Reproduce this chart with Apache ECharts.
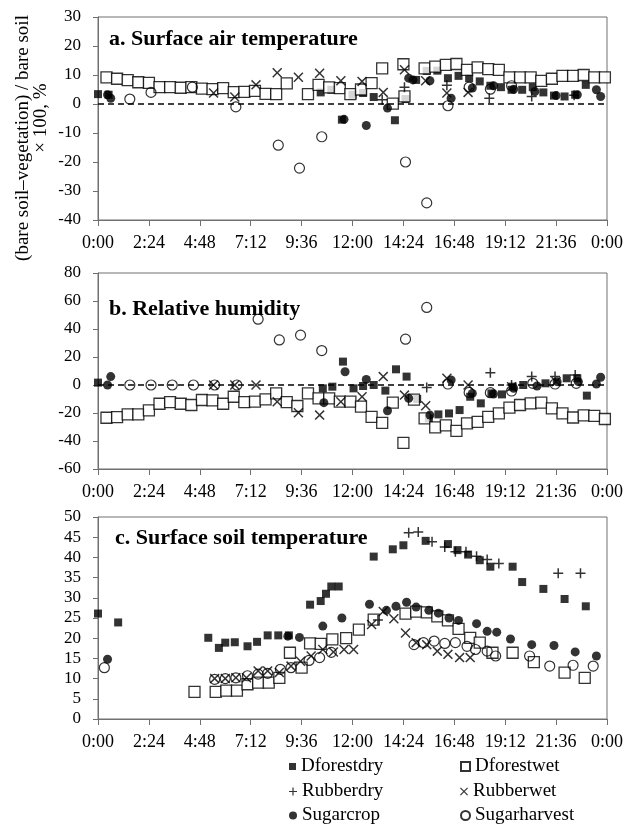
<!DOCTYPE html>
<html><head><meta charset="utf-8">
<script src="https://cdn.jsdelivr.net/npm/echarts@6/dist/echarts.min.js"></script>
<style>html,body{margin:0;padding:0;background:#fff}#c{width:637px;height:827px}</style>
</head><body><div id="c"></div>
<script>
// ---------- DATA (hour of day, % difference / soil temperature) ----------
const seriesNames = ['Dforestdry','Dforestwet','Rubberdry','Rubberwet','Sugarcrop','Sugarharvest'];
const panelTitles = ['a. Surface air temperature','b. Relative humidity','c. Surface soil temperature'];
const yAxisTitle1 = '(bare soil\u2013vegetation) / bare soil';
const yAxisTitle2 = '\u00d7 100, %';

// a. Surface air temperature
const airDforestdry = [[0,3.4],[0.5,3.2],[10.5,4.0],[11.0,4.9],[11.5,-5.4],[12.0,3.2],[12.5,3.8],[13.0,2.4],[14.0,-5.6],[14.5,1.7],[15.0,8.3],[15.5,11.4],[16.0,11.5],[16.5,8.9],[17.0,9.7],[17.5,8.9],[18.0,7.8],[18.5,6.3],[19.0,5.8],[19.5,4.9],[20.0,4.9],[20.5,5.8],[21.0,4.0],[21.5,2.9],[22.0,2.6],[22.5,3.2],[23.0,6.6]];
const airDforestwet = [[0.4,9.2],[0.9,8.7],[1.4,8.2],[1.9,7.5],[2.4,7.3],[2.9,5.8],[3.4,5.8],[3.9,5.6],[4.4,5.8],[4.9,5.3],[5.4,5.1],[5.9,5.5],[6.4,4.1],[6.9,4.2],[7.4,4.5],[7.9,3.5],[8.4,3.4],[8.9,7.1],[9.9,3.4],[10.4,6.6],[10.9,5.7],[11.4,5.5],[11.9,3.4],[12.4,5.0],[12.9,7.2],[13.4,12.3],[13.9,0.1],[14.4,13.7],[14.45,2.6],[15.4,12.3],[15.9,12.9],[16.4,13.5],[16.9,13.8],[17.4,11.8],[17.9,12.6],[18.4,12.0],[18.9,11.8],[19.4,9.2],[19.9,9.2],[20.4,9.2],[20.9,8.0],[21.4,8.7],[21.9,9.7],[22.4,9.7],[22.9,10.0],[23.4,9.2],[23.9,9.2]];
const airRubberdry = [[13.4,1.5],[14.45,5.8],[16.45,6.5],[18.45,2.0],[20.45,2.6],[22.45,3.0]];
const airRubberwet = [[5.45,3.8],[6.45,2.4],[7.45,6.6],[8.45,10.8],[9.45,9.2],[10.45,10.6],[11.45,8.0],[12.45,7.8],[13.45,4.0],[14.45,11.8],[15.45,8.0],[16.45,3.8],[17.45,4.0]];
const airSugarcrop = [[0.45,3.2],[0.6,2.0],[11.6,-5.3],[12.65,-7.4],[13.65,-1.4],[14.65,8.9],[14.85,8.3],[15.65,8.0],[16.65,2.0],[17.65,5.5],[18.65,6.3],[19.6,5.1],[20.6,4.3],[21.6,2.9],[22.6,3.2],[23.5,4.9],[23.7,2.6]];
const airSugarharvest = [[1.5,1.7],[2.5,4.0],[4.45,5.8],[6.5,-1.0],[8.5,-14.2],[9.5,-22.1],[10.55,-11.3],[14.5,-20.0],[15.5,-34.1],[16.5,-0.6],[17.5,5.8],[18.5,5.1],[19.5,6.3]];

// b. Relative humidity
const humDforestdry = [[0,1.7],[10.6,-2.4],[11.05,-1.2],[11.55,16.7],[12.05,-2.4],[12.5,-0.7],[13.0,0],[13.55,-4.0],[14.05,11.2],[14.55,6.0],[15.05,-10.0],[15.6,-23.9],[16.05,-21.0],[16.55,-20.3],[17.05,-17.9],[17.55,-8.4],[18.05,-13.1],[18.55,-6.0],[19.05,-6.7],[19.55,-1.2],[20.05,0],[21.1,1.2],[22.1,4.8],[22.6,4.8],[23.05,-7.6]];
const humDforestwet = [[0.4,-23.4],[0.9,-22.9],[1.4,-21],[1.9,-21],[2.4,-18.1],[2.9,-13.4],[3.4,-12.2],[3.9,-13.4],[4.4,-14.3],[4.9,-10.7],[5.4,-11],[5.9,-13.4],[6.4,-8.4],[6.9,-12.2],[7.4,-11.9],[7.9,-10.3],[8.4,-6],[8.9,-12.2],[9.4,-15],[9.9,-6],[10.4,-9.5],[10.9,-9.5],[11.4,-11.9],[11.9,-11.9],[12.4,-15.5],[12.9,-22.7],[13.4,-27],[13.9,-12.6],[14.4,-41.3],[14.9,-10.5],[15.4,-23.9],[15.9,-30.3],[16.4,-28.9],[16.9,-32.7],[17.4,-27.4],[17.9,-26.3],[18.4,-22.7],[18.9,-20.3],[19.4,-16.2],[19.9,-14.3],[20.4,-13.1],[20.9,-12.6],[21.4,-16.7],[21.9,-20.3],[22.4,-23.2],[22.9,-21.7],[23.4,-22],[23.9,-24.3]];
const humRubberdry = [[15.5,-1.7],[18.5,8.8],[19.5,0],[20.45,6.0],[21.55,6.0],[22.5,7.2]];
const humRubberwet = [[5.45,0],[6.45,0],[7.45,0],[8.45,-12],[9.45,-19.8],[10.45,-21.5],[11.45,-12],[12.45,-8.4],[13.45,6.0],[14.45,-7.2],[15.45,-14.8],[16.45,4.8],[17.45,0],[19.5,-1.2],[21.6,2.4]];
const humSugarcrop = [[0.45,0],[0.6,6.0],[10.65,-12.6],[11.65,9.5],[12.65,4.0],[13.65,-18.4],[14.65,-9.5],[15.65,-21.5],[16.65,3.6],[17.65,-6.0],[18.65,-6.4],[19.6,-2.4],[20.7,-0.7],[21.65,2.4],[22.65,2.4],[23.5,0.7],[23.7,5.5]];
const humSugarharvest = [[1.5,0],[2.5,0],[3.5,0],[4.5,0],[5.5,0],[6.55,0],[7.55,47],[8.55,32.2],[9.55,35.6],[10.55,24.6],[14.5,32.7],[15.5,55.4],[16.5,0.7],[17.5,-5.3],[18.5,-5.5],[19.5,-4.3],[20.5,1.2],[21.55,0.7],[22.55,1.2]];

// c. Surface soil temperature
const soilDforestdry = [[0,26.1],[0.95,23.9],[5.2,20.1],[5.7,17.6],[6.0,18.9],[6.45,19.0],[7.05,18.0],[7.5,19.1],[8.0,20.7],[8.5,20.7],[9.0,20.7],[10.0,28.3],[10.5,29.2],[10.75,31.0],[11.0,32.8],[11.35,32.8],[13.0,40.2],[13.9,42.0],[14.4,43.0],[15.45,44.1],[16.5,43.3],[16.95,41.8],[17.45,40.7],[18.0,39.3],[18.5,37.7],[19.55,37.7],[20.0,33.9],[21.0,32.2],[22.0,29.7],[23.0,27.9]];
const soilDforestwet = [[4.55,6.7],[5.55,6.7],[6.05,7.0],[6.55,7.0],[7.05,8.6],[7.55,9.0],[8.05,9.0],[8.55,10.2],[9.05,16.4],[9.6,12.7],[10.0,18.7],[10.5,18.6],[11.05,19.7],[11.7,20.0],[12.3,22.1],[13.0,24.6],[14.5,26.1],[15.0,26.6],[15.5,26.4],[16.0,25.4],[16.5,24.4],[17.0,22.3],[17.55,20.1],[18.0,18.9],[18.6,16.4],[19.55,16.4],[20.55,14.1],[22.0,11.5],[22.95,10.2]];
const soilRubberdry = [[13.2,24.5],[14.65,46.1],[15.1,46.3],[15.75,43.9],[16.35,42.6],[16.85,41.4],[17.35,41.4],[17.85,40.3],[18.35,39.5],[18.9,38.5],[21.7,36.1],[22.75,36.1]];
const soilRubberwet = [[5.5,10.0],[6.0,10.0],[6.5,10.2],[7.0,10.2],[7.55,11.9],[8.0,11.9],[8.55,11.5],[9.1,13.1],[9.55,14.3],[10.05,15.6],[10.6,17.2],[11.1,16.6],[11.6,17.2],[12.05,17.2],[12.9,23.4],[13.45,26.6],[13.95,24.8],[14.5,21.3],[15.0,18.9],[15.5,18.4],[16.0,16.8],[16.5,16.0],[17.05,15.2],[17.55,15.2]];
const soilSugarcrop = [[0.45,14.8],[8.95,20.5],[9.5,20.2],[10.6,23.0],[11.5,25.0],[12.8,28.4],[13.6,26.9],[14.05,27.9],[14.55,28.9],[15.0,27.7],[15.6,26.9],[16.05,26.2],[16.55,25.0],[17.0,24.4],[17.85,23.6],[18.35,21.7],[18.8,21.5],[19.45,19.8],[20.45,18.4],[21.5,18.2],[22.5,16.6],[23.5,15.6]];
const soilSugarharvest = [[0.3,12.7],[5.5,9.8],[6.0,10.0],[6.5,10.2],[7.05,10.7],[7.55,11.1],[8.0,11.3],[8.6,12.3],[9.1,12.7],[9.95,14.5],[10.45,15.2],[11.0,16.5],[14.9,18.4],[15.35,18.9],[15.85,19.3],[16.35,18.7],[16.85,18.9],[17.4,18.0],[17.8,17.2],[18.35,16.8],[18.75,15.6],[20.35,15.6],[21.3,13.1],[22.4,13.3],[23.35,13.1]];

const panelData = [
  [airDforestdry, airDforestwet, airRubberdry, airRubberwet, airSugarcrop, airSugarharvest],
  [humDforestdry, humDforestwet, humRubberdry, humRubberwet, humSugarcrop, humSugarharvest],
  [soilDforestdry, soilDforestwet, soilRubberdry, soilRubberwet, soilSugarcrop, soilSugarharvest]
];
const yRanges = [[-40,30,10],[-60,80,20],[0,50,5]];
const xRange = [0,24,2.4];

// ---------- STYLE ----------
const FONT = '"Liberation Serif","Times New Roman",serif';
const PLUS = 'path://M4.25,0H5.75V4.25H10V5.75H5.75V10H4.25V5.75H0V4.25H4.25Z';
const CROSS = 'path://M0,1.05L1.05,0L5,3.95L8.95,0L10,1.05L6.05,5L10,8.95L8.95,10L5,6.05L1.05,10L0,8.95L3.95,5Z';
const symStyles = [
  {symbol:'rect', symbolSize:8, itemStyle:{color:'#000'}},
  {symbol:'rect', symbolSize:11, itemStyle:{color:'#fff', borderColor:'#000', borderWidth:1.3}},
  {symbol:PLUS, symbolSize:10, itemStyle:{color:'#000'}},
  {symbol:CROSS, symbolSize:10, itemStyle:{color:'#000'}},
  {symbol:'circle', symbolSize:9, itemStyle:{color:'#000'}},
  {symbol:'circle', symbolSize:10, itemStyle:{color:'rgba(0,0,0,0)', borderColor:'#000', borderWidth:1.2}}
];
const gridPos = [{top:17,height:203},{top:273,height:196},{top:517,height:202}];
const titlePos = [[109,28],[109,298],[115,527]];
const AX = '#707070';

function fmt(v){ const m = Math.round(v*60); const h = Math.floor(m/60)%24; const mm = m%60; return h+':'+(mm<10?'0':'')+mm; }

const grid = gridPos.map(g => ({left:98, width:509, top:g.top, height:g.height, show:true, borderColor:AX, borderWidth:1}));
const xAxis = gridPos.map((g,i) => ({
  type:'value', gridIndex:i, min:xRange[0], max:xRange[1], interval:xRange[2],
  axisLine:{show:true, onZero:false, lineStyle:{color:AX}},
  axisTick:{show:true, length:6, lineStyle:{color:AX}},
  axisLabel:{formatter:fmt, fontFamily:FONT, fontSize:18, color:'#000', margin:14},
  splitLine:{show:false}
}));
const yAxis = yRanges.map((r,i) => ({
  type:'value', gridIndex:i, min:r[0], max:r[1], interval:r[2],
  axisLine:{show:true, lineStyle:{color:AX}},
  axisTick:{show:true, length:5, lineStyle:{color:AX}},
  axisLabel:{fontFamily:FONT, fontSize:17, color:'#000', margin:17},
  splitLine:{show:false}
}));

const series = [];
panelData.forEach((arrs,p) => {
  arrs.forEach((d,s) => {
    const o = Object.assign({
      type:'scatter', name:seriesNames[s], xAxisIndex:p, yAxisIndex:p, data:d,
      silent:true, emphasis:{disabled:true}, z:2+s
    }, JSON.parse(JSON.stringify(symStyles[s])));
    series.push(o);
  });
  if (p < 2) {
    series.push({type:'scatter', xAxisIndex:p, yAxisIndex:p, data:[], silent:true, z:20,
      markLine:{silent:true, symbol:['none','none'], label:{show:false},
        lineStyle:{type:[6,4], color:'#000', width:1.5}, data:[{yAxis:0}]}});
  }
});

const legendPos = [[289,757],[460,757],[289,782],[460,782],[289,806],[460,806]];
const legendIcons = ['rect','rect',PLUS,CROSS,'circle','circle'];
const legendSizes = [7,9,8,8,8,9];
const legend = seriesNames.map((n,i) => ({
  data:[{name:n, icon:legendIcons[i]}], left:legendPos[i][0], top:legendPos[i][1],
  padding:0, itemWidth:legendSizes[i], itemHeight:legendSizes[i], selectedMode:false,
  textStyle:{fontFamily:FONT, fontSize:19, color:'#000'}
}));

const title = panelTitles.map((t,i) => ({text:t, left:titlePos[i][0], top:titlePos[i][1], padding:0,
  textStyle:{fontFamily:FONT, fontSize:22, fontWeight:'bold', color:'#000'}}));

const chart = echarts.init(document.getElementById('c'), null, {renderer:'canvas'});
chart.setOption({
  animation:false, backgroundColor:'#fff',
  grid, xAxis, yAxis, series, legend, title,
  graphic:[
    {type:'text', x:23, y:138, rotation:Math.PI/2, style:{text:yAxisTitle1, font:'19px '+FONT, fill:'#000', textAlign:'center', textVerticalAlign:'middle'}},
    {type:'text', x:41, y:118, rotation:Math.PI/2, style:{text:yAxisTitle2, font:'19px '+FONT, fill:'#000', textAlign:'center', textVerticalAlign:'middle'}}
  ]
});
</script></body></html>
